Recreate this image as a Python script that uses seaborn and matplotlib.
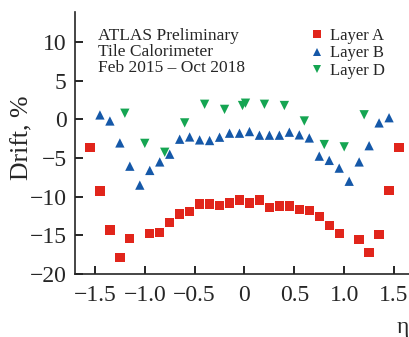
import numpy as np
import pandas as pd
import matplotlib
matplotlib.use("Agg")
import matplotlib.pyplot as plt
import seaborn as sns

# Layer A (red squares)
eta_a = [-1.55, -1.45, -1.35, -1.25, -1.15, -0.95, -0.85, -0.75, -0.65, -0.55,
         -0.45, -0.35, -0.25, -0.15, -0.05, 0.05, 0.15, 0.25, 0.35, 0.45,
         0.55, 0.65, 0.75, 0.85, 0.95, 1.15, 1.25, 1.35, 1.45, 1.55]
drift_a = [-3.65, -9.25, -14.3, -17.85, -15.4, -14.8, -14.6, -13.3, -12.25, -11.95,
           -10.96, -10.96, -11.1, -10.8, -10.44, -10.83, -10.44, -11.4, -11.2, -11.2,
           -11.65, -11.8, -12.6, -13.7, -14.8, -15.5, -17.2, -14.9, -9.2, -3.65]

# Layer B (blue triangles)
eta_b = [-1.45, -1.35, -1.25, -1.15, -1.05, -0.95, -0.85, -0.75, -0.65, -0.55,
         -0.45, -0.35, -0.25, -0.15, -0.05, 0.05, 0.15, 0.25, 0.35, 0.45,
         0.55, 0.65, 0.75, 0.85, 0.95, 1.05, 1.15, 1.25, 1.35, 1.45]
drift_b = [0.58, -0.2, -3.04, -6.05, -8.5, -6.6, -5.5, -4.5, -2.56, -2.27,
           -2.65, -2.73, -2.3, -1.78, -1.78, -1.57, -2.04, -2.04, -2.04, -1.65,
           -2.0, -2.4, -4.75, -5.3, -6.3, -8.0, -5.5, -3.4, -0.45, 0.22]

# Layer D (green down-triangles)
eta_d = [-1.2, -1.0, -0.8, -0.6, -0.4, -0.2, -0.02, 0.01, 0.2, 0.4, 0.6, 0.8, 1.0, 1.2]
drift_d = [0.8, -3.1, -4.25, -0.45, 1.96, 1.3, 1.8, 2.1, 1.96, 1.8, -0.2, -3.25, -3.55, 0.6]

layers = ["Layer A", "Layer B", "Layer D"]
colors = {"Layer A": "#e1251b", "Layer B": "#1558a8", "Layer D": "#15a552"}
marks = {"Layer A": "s", "Layer B": "^", "Layer D": "v"}

df = pd.concat([
    pd.DataFrame({"eta": eta_a, "drift": drift_a, "layer": "Layer A"}),
    pd.DataFrame({"eta": eta_b, "drift": drift_b, "layer": "Layer B"}),
    pd.DataFrame({"eta": eta_d, "drift": drift_d, "layer": "Layer D"}),
])

sns.set_style("ticks")
plt.rcParams['font.family'] = ['Liberation Serif', 'DejaVu Serif']

fig = plt.figure(figsize=(4.1, 3.37), dpi=100)
ax = fig.add_axes([75/410, 63/337, 335/410, 262/337])

sns.scatterplot(data=df, x="eta", y="drift", hue="layer", style="layer",
                hue_order=layers, style_order=layers, palette=colors, markers=marks,
                s=45, linewidth=0, ax=ax)

ax.set_xlim(-1.7, 1.66)
ax.set_ylim(-20, 13.9)
ax.set_xticks([-1.5, -1.0, -0.5, 0, 0.5, 1.0, 1.5])
ax.set_xticklabels(["\u22121.5", "\u22121.0", "\u22120.5", "0", "0.5", "1.0", "1.5"])
ax.set_yticks([-20, -15, -10, -5, 0, 5, 10])
ax.set_yticklabels(["\u221220", "\u221215", "\u221210", "\u22125", "0", "5", "10"])
sns.despine(ax=ax)
ax.spines["left"].set_linewidth(1.2)
ax.spines["bottom"].set_linewidth(1.2)
ax.tick_params(direction="in", length=6, width=1.2, labelsize=17, color="black")
ax.tick_params(axis="x", pad=8)
ax.tick_params(axis="y", pad=6)

ax.set_xlabel("")
ax.set_ylabel("Drift, %", fontsize=18.5)
ax.yaxis.set_label_coords(-0.125, 0.52)
fig.text(403/410, 1 - 328/337, "\u03b7", fontsize=17, ha="center", va="center")

ax.text(0.07, 0.94, "ATLAS Preliminary\nTile Calorimeter\nFeb 2015 \u2013 Oct 2018",
        transform=ax.transAxes, fontsize=12.5, va="top", ha="left", linespacing=1.0)

ax.legend(loc="upper left", bbox_to_anchor=(0.7, 0.94), frameon=False, fontsize=12,
          handletextpad=0.35, handlelength=0.9, labelspacing=0.1, borderpad=0,
          borderaxespad=0, markerscale=0.9)

plt.savefig("out.png", dpi=100)
